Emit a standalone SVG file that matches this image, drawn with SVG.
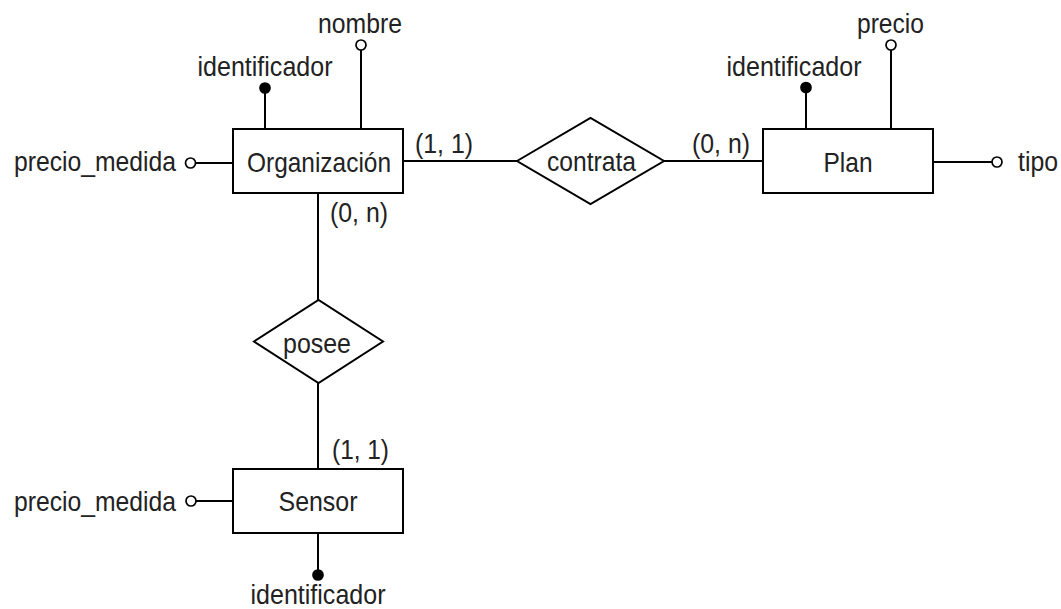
<svg xmlns="http://www.w3.org/2000/svg" width="1061" height="609" viewBox="0 0 1061 609">
<style>
.box{fill:#fff;stroke:#000;stroke-width:2}
.ln{fill:none;stroke:#000;stroke-width:2}
.open{fill:#fff;stroke:#000;stroke-width:1.7}
.key{fill:#000;stroke:#000;stroke-width:1.7}
text{font-family:"Liberation Sans",Arial,sans-serif;font-size:27.5px;fill:#222}
.c{text-anchor:middle}
.e{text-anchor:end}
</style>
<rect width="1061" height="609" fill="#fff"/>
<g id="connectors">
<line class="ln" x1="403" y1="161" x2="517" y2="161"/>
<line class="ln" x1="664" y1="161" x2="763" y2="161"/>
<line class="ln" x1="318" y1="193" x2="318" y2="300"/>
<line class="ln" x1="318" y1="383" x2="318" y2="469"/>
<text x="415" y="153" textLength="58" lengthAdjust="spacingAndGlyphs">(1, 1)</text>
<text x="692" y="153" textLength="58" lengthAdjust="spacingAndGlyphs">(0, n)</text>
<text x="330" y="222" textLength="58" lengthAdjust="spacingAndGlyphs">(0, n)</text>
<text x="332" y="459" textLength="57" lengthAdjust="spacingAndGlyphs">(1, 1)</text>
</g>
<g id="organizacion">
<line class="ln" x1="265" y1="129" x2="265" y2="93"/>
<circle class="key" cx="265" cy="88" r="5"/>
<text class="c" x="265" y="76" textLength="135" lengthAdjust="spacingAndGlyphs">identificador</text>
<line class="ln" x1="361" y1="129" x2="361" y2="50"/>
<circle class="open" cx="361" cy="45" r="5"/>
<text class="c" x="360" y="33" textLength="84" lengthAdjust="spacingAndGlyphs">nombre</text>
<line class="ln" x1="233" y1="163" x2="196" y2="163"/>
<circle class="open" cx="190.5" cy="163" r="5"/>
<text class="e" x="176" y="171" textLength="162" lengthAdjust="spacingAndGlyphs">precio_medida</text>
<rect class="box" x="233" y="129" width="170" height="64"/>
<text class="c" x="319" y="172" textLength="144" lengthAdjust="spacingAndGlyphs">Organización</text>
</g>
<g id="contrata">
<polygon class="box" points="517,161 590.5,118 664,161 590.5,204"/>
<text class="c" x="591.5" y="171" textLength="89" lengthAdjust="spacingAndGlyphs">contrata</text>
</g>
<g id="plan">
<line class="ln" x1="806" y1="129" x2="806" y2="93"/>
<circle class="key" cx="806" cy="87.5" r="5"/>
<text class="c" x="794" y="76" textLength="135" lengthAdjust="spacingAndGlyphs">identificador</text>
<line class="ln" x1="891" y1="129" x2="891" y2="50"/>
<circle class="open" cx="891" cy="45" r="5"/>
<text class="c" x="890.5" y="33" textLength="67" lengthAdjust="spacingAndGlyphs">precio</text>
<line class="ln" x1="933" y1="162" x2="992" y2="162"/>
<circle class="open" cx="997" cy="162" r="5"/>
<text x="1018" y="171" textLength="40" lengthAdjust="spacingAndGlyphs">tipo</text>
<rect class="box" x="763" y="129" width="170" height="64"/>
<text class="c" x="848" y="172" textLength="49" lengthAdjust="spacingAndGlyphs">Plan</text>
</g>
<g id="posee">
<polygon class="box" points="254,341.5 318.5,300 383,341.5 318.5,383"/>
<text class="c" x="317" y="353" textLength="68" lengthAdjust="spacingAndGlyphs">posee</text>
</g>
<g id="sensor">
<line class="ln" x1="233" y1="501" x2="196" y2="501"/>
<circle class="open" cx="191" cy="501" r="5"/>
<text class="e" x="176" y="511" textLength="162" lengthAdjust="spacingAndGlyphs">precio_medida</text>
<line class="ln" x1="318" y1="533" x2="318" y2="570"/>
<circle class="key" cx="318" cy="575" r="5"/>
<text class="c" x="318" y="604" textLength="135" lengthAdjust="spacingAndGlyphs">identificador</text>
<rect class="box" x="233" y="469" width="170" height="64"/>
<text class="c" x="318" y="511" textLength="79" lengthAdjust="spacingAndGlyphs">Sensor</text>
</g>
</svg>
